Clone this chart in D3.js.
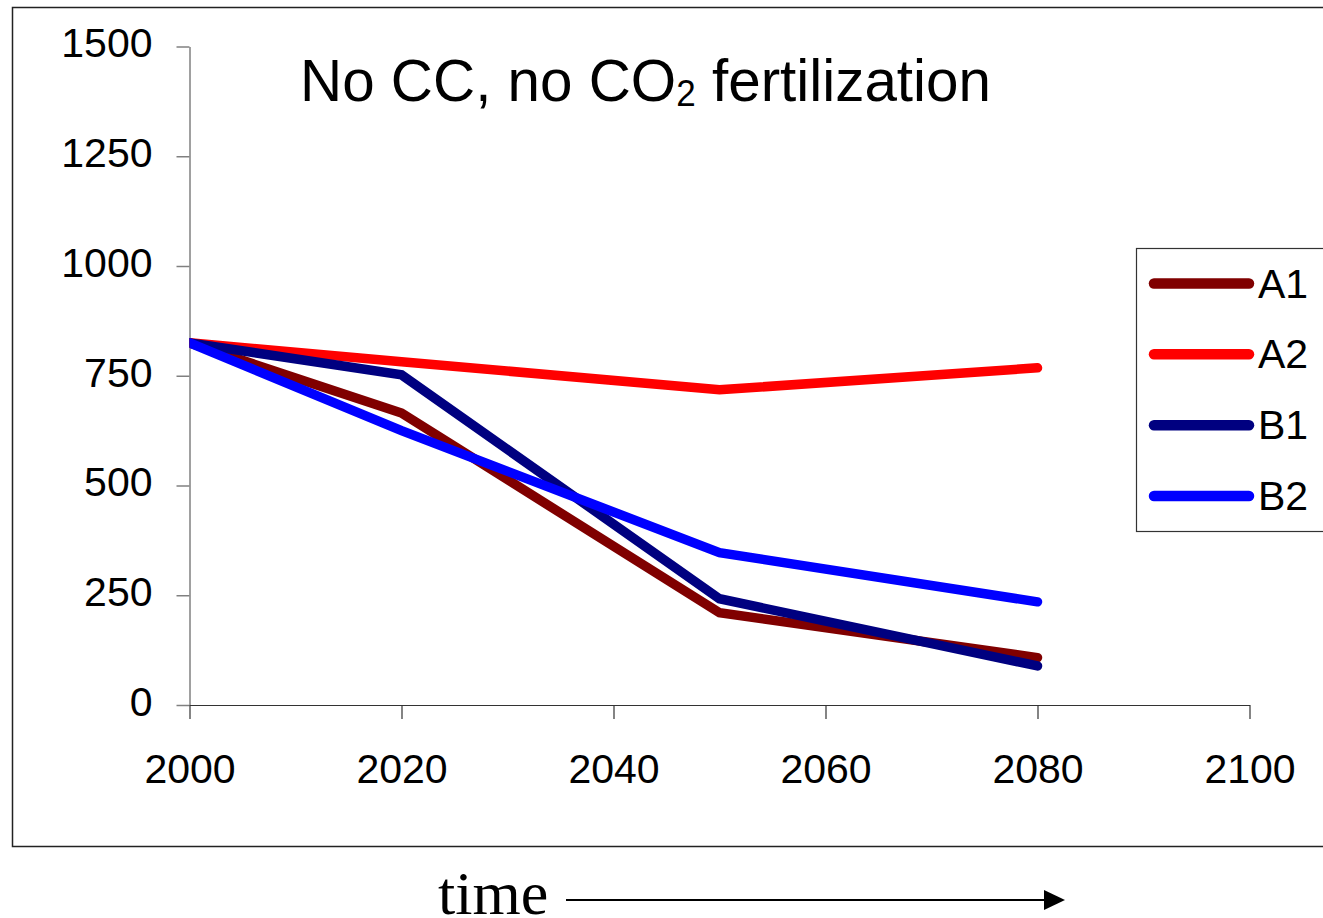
<!DOCTYPE html>
<head>
    <meta charset="utf-8">
    <script src="https://cdn.jsdelivr.net/npm/d3@7"></script>
    <style>
        body { margin:0; background:#fff; }
        svg { display:block; }
        text { font-family: "Liberation Sans", Arial, sans-serif; fill: #000; }
        text.serif { font-family: "Liberation Serif", "Times New Roman", serif; }
        .yaxis path, .yaxis line { stroke: #808080; stroke-width: 1.5; }
        .xaxis path, .xaxis line { stroke: #333; stroke-width: 1.2; }
        .tick text { font-size: 41px; }
        .series { fill: none; stroke-width: 9.5; stroke-linecap: round; stroke-linejoin: miter; }
        .legend text { font-size: 41px; }
    </style>
</head>

<body>
<script>
    // values
    var years = [2000, 2020, 2050, 2080];
    var seriesNames = ["A1", "A2", "B1", "B2"];
    var a1 = [825, 665, 210, 108];
    var a2 = [825, 782, 718, 768];
    var b1 = [825, 752, 242, 89];
    var b2 = [825, 625, 347, 235];
    var colors = ["#800000", "#ff0000", "#000080", "#0000ff"];
    var yTicks = [0, 250, 500, 750, 1000, 1250, 1500];
    var xTicks = [2000, 2020, 2040, 2060, 2080, 2100];

    var width = 1323;
    var height = 918;

    var svg = d3.select("body").append("svg")
        .attr("width", width)
        .attr("height", height);

    // outer chart frame (runs off the right edge)
    svg.append("rect")
        .attr("x", 12.5).attr("y", 7.5)
        .attr("width", 1330).attr("height", 839)
        .attr("fill", "none").attr("stroke", "#222").attr("stroke-width", 1.5);

    var x = d3.scaleLinear().domain([2000, 2100]).range([189.5, 1249.5]);
    var y = d3.scaleLinear().domain([0, 1500]).range([705, 46.5]);

    var yAxis = svg.append("g")
        .attr("class", "yaxis")
        .attr("transform", "translate(" + x(2000) + ",0)")
        .call(d3.axisLeft(y).tickValues(yTicks).tickSize(13).tickSizeOuter(0).tickPadding(24).tickFormat(d3.format("d")));
    yAxis.selectAll("text").attr("dy", "0.25em");
    yAxis.selectAll("line").attr("stroke", "#333").attr("stroke-width", 1.2);

    var xAxis = svg.append("g")
        .attr("class", "xaxis")
        .attr("transform", "translate(0," + y(0) + ")")
        .call(d3.axisBottom(x).tickValues(xTicks).tickSize(14).tickSizeOuter(0).tickPadding(35).tickFormat(d3.format("d")));
    xAxis.selectAll("line").attr("stroke", "#808080").attr("stroke-width", 1.5);

    svg.append("clipPath").attr("id", "plotclip")
        .append("rect")
        .attr("x", x(2000)).attr("y", 0)
        .attr("width", x(2100) - x(2000) + 20).attr("height", y(0) + 20);

    var allSeries = [a1, a2, b1, b2].map(function(vals, i) {
        return { name: seriesNames[i], color: colors[i], values: vals };
    });

    var line = d3.line()
        .x(function(d, i) { return x(years[i]); })
        .y(function(d) { return y(d); });

    svg.append("g").attr("clip-path", "url(#plotclip)")
        .selectAll("path.series")
        .data(allSeries)
        .enter().append("path")
        .attr("class", "series")
        .attr("stroke", function(d) { return d.color; })
        .attr("d", function(d) { return line(d.values); });

    // title
    var title = svg.append("text")
        .attr("x", 300).attr("y", 101)
        .attr("font-size", 60)
        .attr("textLength", 691)
        .attr("lengthAdjust", "spacingAndGlyphs");
    title.append("tspan").text("No CC, no CO");
    title.append("tspan").attr("font-size", 36).attr("dy", 5).text("2");
    title.append("tspan").attr("dy", -5).text(" fertilization");

    // legend
    var legend = svg.append("g").attr("class", "legend");
    legend.append("rect")
        .attr("x", 1136.5).attr("y", 248.5)
        .attr("width", 200).attr("height", 283)
        .attr("fill", "#fff").attr("stroke", "#333").attr("stroke-width", 1.2);

    var legendY = d3.scalePoint().domain(seriesNames).range([283.5, 496]);
    var rows = legend.selectAll("g.row")
        .data(allSeries)
        .enter().append("g")
        .attr("class", "row")
        .attr("transform", function(d) { return "translate(0," + legendY(d.name) + ")"; });
    rows.append("line")
        .attr("x1", 1154).attr("x2", 1249)
        .attr("stroke", function(d) { return d.color; })
        .attr("stroke-width", 10.5)
        .attr("stroke-linecap", "round");
    rows.append("text")
        .attr("x", 1258).attr("y", 14)
        .text(function(d) { return d.name; });

    // "time" arrow below the chart
    svg.append("text")
        .attr("class", "serif")
        .attr("x", 438).attr("y", 914)
        .attr("font-size", 62)
        .text("time");
    svg.append("line")
        .attr("x1", 566).attr("x2", 1048)
        .attr("y1", 900).attr("y2", 900)
        .attr("stroke", "#000").attr("stroke-width", 2);
    svg.append("path")
        .attr("d", "M1044,890 L1065,900 L1044,910 Z")
        .attr("fill", "#000");
</script>
</body>
